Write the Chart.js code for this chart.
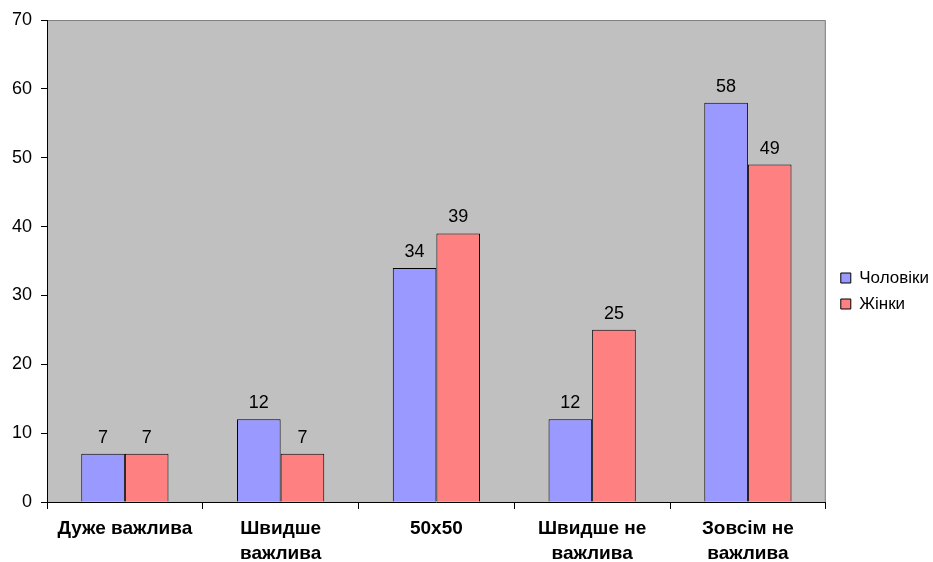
<!DOCTYPE html>
<html>
<head>
<meta charset="utf-8">
<script src="https://cdn.jsdelivr.net/npm/chart.js@4"></script>
<style>
  html, body { margin: 0; padding: 0; background: #fff; }
  #wrap { width: 933px; height: 562px; }
</style>
</head>
<body>
<div id="wrap"><canvas id="chart" width="933" height="562"></canvas></div>
<script>
// Chart data
const categories = [['Дуже важлива'], ['Швидше', 'важлива'], ['50х50'], ['Швидше не', 'важлива'], ['Зовсім не', 'важлива']];
const seriesNames = ['Чоловіки', 'Жінки'];
const menValues = [7, 12, 34, 12, 58];
const womenValues = [7, 7, 39, 25, 49];
const yTicks = [0, 10, 20, 30, 40, 50, 60, 70];

const FONT = 'Arial, "Liberation Sans", sans-serif';

// Grey plot background with thin border
const plotBackground = {
    id: 'plotBackground',
    beforeDraw(chart) {
        const { ctx, chartArea: a } = chart;
        ctx.save();
        ctx.fillStyle = '#C0C0C0';
        ctx.fillRect(a.left, a.top, a.right - a.left, a.bottom - a.top);
        ctx.strokeStyle = '#808080';
        ctx.lineWidth = 1;
        ctx.beginPath();
        ctx.moveTo(a.left, a.top + 0.5);
        ctx.lineTo(a.right - 0.5, a.top + 0.5);
        ctx.lineTo(a.right - 0.5, a.bottom);
        ctx.stroke();
        ctx.restore();
    }
};

// Nudge the legend a bit further from the plot
const legendShift = {
    id: 'legendShift',
    afterLayout(chart) {
        if (chart.legend) {
            chart.legend.left += 6;
            chart.legend.right += 6;
        }
    }
};

// Value labels above each bar
const valueLabels = {
    id: 'valueLabels',
    afterDatasetsDraw(chart) {
        const ctx = chart.ctx;
        ctx.save();
        ctx.fillStyle = '#000';
        ctx.font = '18px ' + FONT;
        ctx.textAlign = 'center';
        ctx.textBaseline = 'alphabetic';
        chart.data.datasets.forEach((ds, i) => {
            chart.getDatasetMeta(i).data.forEach((bar, j) => {
                ctx.fillText(ds.data[j], bar.x, bar.y - 11);
            });
        });
        ctx.restore();
    }
};

function initChart() {
    const ctx = document.getElementById('chart').getContext('2d');
    new Chart(ctx, {
        type: 'bar',
        data: {
            labels: categories,
            datasets: [{
                label: seriesNames[0],
                data: menValues,
                backgroundColor: '#9999FF',
                borderColor: '#000',
                borderWidth: 1
            }, {
                label: seriesNames[1],
                data: womenValues,
                backgroundColor: '#FF8080',
                borderColor: '#000',
                borderWidth: 1
            }]
        },
        options: {
            responsive: false,
            animation: false,
            devicePixelRatio: 1,
            layout: { padding: { top: 20, right: 0, left: 0, bottom: 0 } },
            categoryPercentage: 0.56,
            barPercentage: 1,
            plugins: {
                legend: {
                    position: 'right',
                    labels: {
                        color: '#000',
                        font: { family: FONT, size: 17 },
                        boxWidth: 10,
                        boxHeight: 10,
                        padding: 9,
                        generateLabels(chart) {
                            return chart.data.datasets.map((ds, i) => ({
                                text: ds.label,
                                fillStyle: ds.backgroundColor,
                                strokeStyle: '#000',
                                lineWidth: 1,
                                datasetIndex: i
                            }));
                        }
                    }
                },
                tooltip: { enabled: false }
            },
            scales: {
                x: {
                    border: { color: '#000', width: 1 },
                    grid: { drawOnChartArea: false, drawTicks: true, tickLength: 7, color: '#000', offset: true },
                    ticks: {
                        color: '#000',
                        font: { family: FONT, size: 19, weight: 'bold', lineHeight: 1.32 },
                        maxRotation: 0,
                        padding: 7
                    },
                    afterFit(scale) { scale.height = 60; }
                },
                y: {
                    min: 0,
                    max: 70,
                    afterBuildTicks(scale) { scale.ticks = yTicks.map(v => ({ value: v })); },
                    border: { color: '#000', width: 1 },
                    grid: { drawOnChartArea: false, drawTicks: true, tickLength: 6, color: '#000' },
                    ticks: {
                        color: '#000',
                        font: { family: FONT, size: 18 },
                        padding: 9
                    },
                    afterFit(scale) { scale.width = 47; }
                }
            }
        },
        plugins: [plotBackground, legendShift, valueLabels]
    });
}

document.addEventListener('DOMContentLoaded', initChart);
</script>
</body>
</html>
